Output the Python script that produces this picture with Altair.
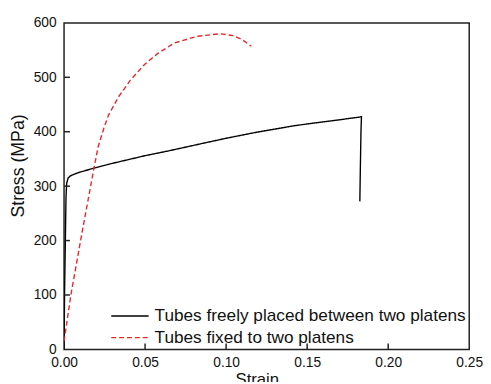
import altair as alt
import pandas as pd

# Series 1: tubes freely placed between two platens
strain_free = [0, 0.0003, 0.0008, 0.0012, 0.0016, 0.0025, 0.004, 0.0063, 0.01, 0.0184,
               0.03, 0.05, 0.064, 0.08, 0.1, 0.1187, 0.143, 0.165, 0.18, 0.1835,
               0.1832, 0.1828, 0.1825]
stress_free = [0, 100, 200, 280, 305, 315, 319, 322, 326, 333,
               342, 356, 364.5, 375, 388, 399, 411.5, 420, 426, 427.5,
               400, 330, 272]

# Series 2: tubes fixed to two platens
strain_fixed = [0, 0.0042, 0.0113, 0.0184, 0.021, 0.0245, 0.0275, 0.0336, 0.0407, 0.0498,
                0.0579, 0.068, 0.0822, 0.0964, 0.1045, 0.11, 0.1156]
stress_fixed = [15, 100, 218, 332, 372, 406, 431, 464, 494, 524,
                544, 563, 575.5, 580, 576.6, 569, 557]

label_free = "Tubes freely placed between two platens"
label_fixed = "Tubes fixed to two platens"

x_ticks = [0.0, 0.05, 0.10, 0.15, 0.20, 0.25]
y_ticks = [0, 100, 200, 300, 400, 500, 600]
x_inner_ticks = [0.05, 0.10, 0.15, 0.20]
y_inner_ticks = [100, 200, 300, 400, 500]

rows = []
for i, (s, t) in enumerate(zip(strain_free, stress_free)):
    rows.append({"strain": s, "stress": t, "series": label_free, "idx": i})
for i, (s, t) in enumerate(zip(strain_fixed, stress_fixed)):
    rows.append({"strain": s, "stress": t, "series": label_fixed, "idx": i})
df = pd.DataFrame(rows)

FONT = "Liberation Sans"
FRAME = "#222222"

xscale = alt.Scale(domain=[0, 0.25], nice=False, zero=False)
yscale = alt.Scale(domain=[0, 600], nice=False)

legend_kw = dict(title=None, orient="none", legendX=47, legendY=289,
                 symbolType="stroke", symbolSize=1444,
                 symbolStrokeWidth=1.4, clipHeight=18,
                 rowPadding=4, labelOffset=5, padding=0,
                 labelFontSize=17.5, labelFont=FONT,
                 labelColor="#111", labelLimit=400)

lines = alt.Chart(df).mark_line(strokeWidth=1.4, clip=True).encode(
    x=alt.X("strain:Q", scale=xscale,
            axis=alt.Axis(values=x_ticks, format=".2f", title="Strain",
                          domain=False, ticks=False, grid=False,
                          labelPadding=6, labelFontSize=14, labelFont=FONT,
                          labelColor="#111", titleFontSize=17, titleFont=FONT,
                          titleFontWeight="normal", titleColor="#111",
                          titleX=196, titleY=23, titleBaseline="top",
                          labelFlush=False)),
    y=alt.Y("stress:Q", scale=yscale,
            axis=alt.Axis(values=y_ticks, title="Stress (MPa)",
                          domain=False, ticks=False, grid=False,
                          labelPadding=8, labelFontSize=14, labelFont=FONT,
                          labelColor="#111", titleFontSize=18, titleFont=FONT,
                          titleFontWeight="normal", titleColor="#111",
                          titleX=-46, titleY=145, titleAlign="center",
                          titleBaseline="middle", labelFlush=False)),
    color=alt.Color("series:N",
                    scale=alt.Scale(domain=[label_free, label_fixed],
                                    range=["#000000", "#e5262b"]),
                    sort=[label_free, label_fixed],
                    legend=alt.Legend(**legend_kw)),
    strokeDash=alt.StrokeDash("series:N",
                              scale=alt.Scale(domain=[label_free, label_fixed],
                                              range=[[1, 0], [5, 3]]),
                              sort=[label_free, label_fixed],
                              legend=alt.Legend(**legend_kw)),
    order=alt.Order("idx:Q"),
)

yt = alt.Chart(pd.DataFrame({"v": y_inner_ticks})).mark_rule(
    color=FRAME, strokeWidth=1.5).encode(
    y=alt.Y("v:Q", scale=yscale), x=alt.value(0), x2=alt.value(6))

xt = alt.Chart(pd.DataFrame({"v": x_inner_ticks})).mark_rule(
    color=FRAME, strokeWidth=1.5).encode(
    x=alt.X("v:Q", scale=xscale), y=alt.value(332), y2=alt.value(326))

chart = alt.layer(lines, yt, xt).properties(
    width=412, height=332,
    autosize=alt.AutoSizeParams(type="none"),
    padding={"left": 57, "top": 12, "right": 14, "bottom": 30},
    background="white",
).configure_view(stroke=FRAME, strokeWidth=1.5)

chart.save("out.html", embed_options={"renderer": "svg", "actions": False})
